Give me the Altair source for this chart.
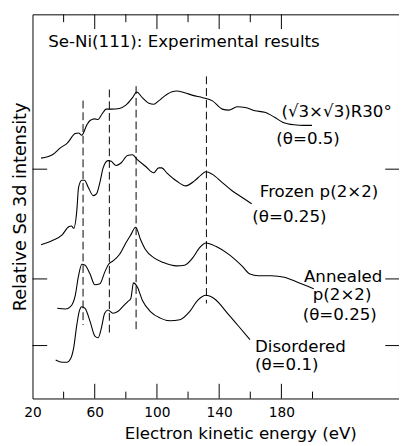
import altair as alt
import pandas as pd

FONT = "DejaVu Sans"

# ---- curve data (energy in eV, relative intensity in arbitrary units) ----
sqrt3_energy = [25.5, 32.8, 38.1, 42.2, 47.5, 49.6, 51.7, 54.8, 57.0, 60.1, 62.2, 64.7, 67.4, 70.6,
                75.9, 80.0, 84.3, 87.0, 90.6, 94.8, 98.0, 101.1, 106.3, 112.6, 117.8, 123.1, 129.4,
                135.7, 142.0, 146.2, 151.5, 156.7, 163.0, 169.3, 175.6, 180.8, 188.2, 194.5, 199.7]
sqrt3_int = [245.3, 248.7, 256.0, 260.3, 270.3, 271.0, 268.7, 278.7, 283.7, 285.3, 284.7, 290.3, 295.3, 295.3,
             296.0, 299.3, 307.0, 312.7, 307.0, 301.3, 300.3, 303.7, 310.3, 313.7, 312.0, 309.3, 307.0,
             303.7, 295.3, 294.3, 297.7, 297.0, 293.7, 292.0, 287.0, 282.0, 279.3, 278.7, 278.7]

frozen_energy = [25.5, 32.8, 39.1, 43.3, 45.0, 46.5, 48.5, 49.6, 51.7, 53.4, 55.9, 59.1, 61.1, 63.3,
                 65.4, 68.5, 70.6, 73.7, 76.9, 81.1, 84.3, 87.4, 92.6, 97.9, 101.1, 103.1, 106.3,
                 112.6, 118.5, 124.1, 128.3, 131.5, 135.7, 142.0, 148.3, 154.6, 160.9]
frozen_int = [157.0, 161.3, 167.0, 175.3, 176.0, 173.7, 192.0, 215.3, 222.7, 222.7, 215.3, 207.0, 208.7, 220.3,
              235.3, 242.7, 242.0, 237.7, 240.3, 248.0, 248.7, 243.7, 237.0, 230.3, 235.3, 235.3, 230.3,
              222.0, 217.0, 222.0, 228.0, 231.3, 228.7, 220.3, 212.0, 205.3, 198.7]

annealed_energy = [35.9, 41.2, 44.4, 47.5, 49.6, 51.7, 53.8, 57.0, 60.1, 63.3, 66.4, 68.9, 71.7, 75.9,
                   80.0, 83.2, 86.3, 89.5, 92.6, 97.9, 104.2, 112.6, 117.8, 123.1, 127.3, 131.5, 137.8,
                   146.2, 154.6, 159.8, 165.1, 173.5, 181.9, 190.3, 196.6, 200.8]
annealed_int = [92.0, 91.3, 93.7, 105.3, 125.3, 137.0, 136.0, 127.0, 116.0, 117.0, 128.7, 137.0, 140.3, 147.0,
                158.7, 167.0, 174.7, 162.0, 152.0, 143.7, 138.7, 135.3, 136.0, 143.7, 153.7, 158.7, 155.3,
                147.0, 135.3, 127.0, 125.3, 125.3, 123.7, 118.7, 114.7, 112.0]

disordered_energy = [34.9, 39.1, 42.2, 44.4, 46.5, 48.5, 50.0, 51.7, 53.8, 57.0, 60.1, 62.2, 64.3, 66.4,
                     68.5, 71.7, 74.8, 78.0, 81.1, 83.2, 84.9, 87.4, 90.6, 95.8, 102.1, 108.4, 114.7,
                     121.0, 126.3, 131.5, 136.7, 146.2, 152.5, 159.8]
disordered_int = [39.3, 37.0, 37.0, 40.3, 52.0, 75.3, 88.7, 93.7, 92.0, 78.7, 63.7, 62.0, 72.0, 87.0,
                  90.3, 87.0, 88.7, 93.7, 98.7, 102.0, 118.0, 113.7, 100.3, 88.7, 82.0, 79.3, 80.3,
                  88.7, 100.3, 105.3, 102.0, 85.3, 73.7, 60.0]

# dashed reference lines
dash_energy = [52.5, 69.4, 86.6, 131.8]
dash_top = [304.0, 315.3, 318.7, 328.7]
dash_bottom = [75.0, 65.3, 68.7, 97.0]

# axis ticks
x_labels = [20, 60, 100, 140, 180]
top_long = [60, 100, 140, 180]
top_short = [40, 80, 120, 160]
bottom_long = [60, 100, 140, 180]
bottom_short = [40, 80, 120, 160, 200]
y_ticks = [234, 122, 54]

# labels
left_texts = ["Se-Ni(111): Experimental results", "(√3×√3)R30°", "(θ=0.5)", "Frozen p(2×2)",
              "(θ=0.25)", "Disordered", "(θ=0.1)"]
left_x = [30.1, 180.0, 176.7, 166.1, 161.3, 163.0, 163.0]
left_y = [359.0, 287.0, 260.0, 205.3, 180.3, 47.0, 28.7]
center_texts = ["Annealed", "p(2×2)", "(θ=0.25)"]
center_x = [219.7, 219.0, 217.5]
center_y = [118.7, 100.3, 80.3]

X_DOMAIN = [20, 255.6]
Y_DOMAIN = [0, 392]
W, H = 374, 392

rows = []
for name, ex, iy in [("sqrt3", sqrt3_energy, sqrt3_int), ("frozen", frozen_energy, frozen_int),
                     ("annealed", annealed_energy, annealed_int), ("disordered", disordered_energy, disordered_int)]:
    for i, (e, v) in enumerate(zip(ex, iy)):
        rows.append({"series": name, "energy": e, "intensity": v, "order": i})
curves = pd.DataFrame(rows)

xs = alt.Scale(domain=X_DOMAIN, nice=False, zero=False)
ys = alt.Scale(domain=Y_DOMAIN, nice=False, zero=False)

lines = alt.Chart(curves).mark_line(color="black", strokeWidth=1.1, interpolate="monotone").encode(
    x=alt.X("energy:Q", scale=xs,
            axis=alt.Axis(values=x_labels, ticks=False, domain=False, grid=False, labelFontSize=14,
                          labelFont=FONT, labelColor="black", labelPadding=7,
                          labelFlush=False,
                          title="Electron kinetic energy (eV)", titleFont=FONT, titleFontSize=17,
                          titleFontWeight="normal", titleColor="black", titleX=212, titleY=41,
                          titleBaseline="alphabetic")),
    y=alt.Y("intensity:Q", scale=ys,
            axis=alt.Axis(labels=False, ticks=False, domain=False, grid=False,
                          title="Relative Se  3d  intensity", titleFont=FONT, titleFontSize=18,
                          titleFontWeight="normal", titleColor="black", titlePadding=3)),
    detail="series:N",
    order="order:Q",
)

dash_df = pd.DataFrame({"energy": dash_energy, "top": dash_top, "bottom": dash_bottom})
dashes = alt.Chart(dash_df).mark_rule(color="black", strokeWidth=1, strokeDash=[8, 4]).encode(
    x=alt.X("energy:Q", scale=xs), y=alt.Y("top:Q", scale=ys), y2="bottom:Q")

def xticks(vals, y0, y1):
    return alt.Chart(pd.DataFrame({"energy": vals})).mark_rule(color="black", strokeWidth=1).encode(
        x=alt.X("energy:Q", scale=xs), y=alt.value(y0), y2=alt.value(y1))

tick_layers = [
    xticks(top_long, 0, 15), xticks(top_short, 0, 8),
    xticks(bottom_long, H, H - 15), xticks(bottom_short, H, H - 7),
]
ydf = pd.DataFrame({"intensity": y_ticks})
tick_layers.append(alt.Chart(ydf).mark_rule(color="black", strokeWidth=1).encode(
    y=alt.Y("intensity:Q", scale=ys), x=alt.value(0), x2=alt.value(15)))
tick_layers.append(alt.Chart(ydf).mark_rule(color="black", strokeWidth=1).encode(
    y=alt.Y("intensity:Q", scale=ys), x=alt.value(W - 14), x2=alt.value(W)))

ltext = alt.Chart(pd.DataFrame({"t": left_texts, "energy": left_x, "intensity": left_y})).mark_text(
    align="left", baseline="alphabetic", font=FONT, fontSize=17, color="black").encode(
    x=alt.X("energy:Q", scale=xs), y=alt.Y("intensity:Q", scale=ys), text="t:N")
ctext = alt.Chart(pd.DataFrame({"t": center_texts, "energy": center_x, "intensity": center_y})).mark_text(
    align="center", baseline="alphabetic", font=FONT, fontSize=17, color="black").encode(
    x=alt.X("energy:Q", scale=xs), y=alt.Y("intensity:Q", scale=ys), text="t:N")

chart = alt.layer(lines, dashes, *tick_layers, ltext, ctext).properties(
    width=W, height=H,
    autosize=alt.AutoSizeParams(type="none"),
    padding={"left": 25, "top": 2, "right": 0, "bottom": 44},
    background="white",
).configure_view(stroke="black", strokeWidth=1)

chart.save("out.html", embed_options={"renderer": "svg", "actions": False})
